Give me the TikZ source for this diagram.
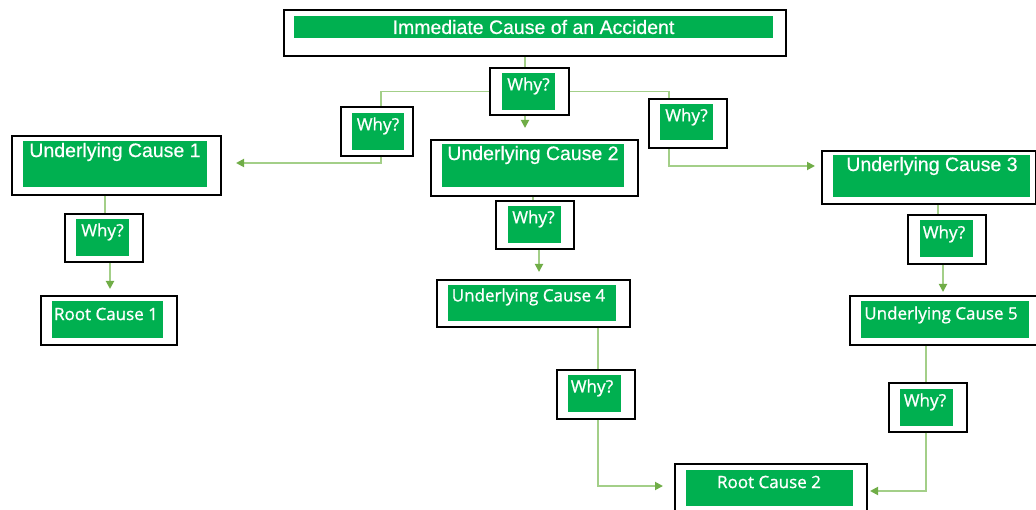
\documentclass[tikz,border=0pt]{standalone}
\usepackage{fontspec}
\setmainfont{Liberation Sans}
\newfontfamily\bigfont{Liberation Sans}[FakeBold=0.5]
\newfontfamily\osans{Open Sans}[FakeBold=1.0]
\usetikzlibrary{arrows.meta}
\definecolor{gr}{HTML}{00B050}
\definecolor{ln}{HTML}{A3CF88}
\definecolor{ah}{HTML}{70AD47}
\tikzset{
  outerbox/.style={draw=black, line width=1.6pt, fill=white, inner sep=0pt},
  inbox/.style={fill=gr},
  bigtxt/.style={text=white, font=\bigfont\fontsize{19.5}{22}\selectfont, inner sep=0pt},
  smtxt/.style={text=white, font=\osans\fontsize{17}{20}\selectfont, inner sep=0pt},
  conn/.style={draw=ln, line width=1.8pt},
  arr/.style={conn, -{Triangle[length=8pt,width=8pt,fill=ah,color=ah]}},
}
\begin{document}
\begin{tikzpicture}[x=1pt,y=-1pt]
\useasboundingbox (0,0) rectangle (1036,510);
% top box
\node[outerbox, minimum width=502pt, minimum height=46pt] (top) at (535,33) {};
\fill[inbox] (294,16) rectangle (773,38);
\node[bigtxt] (topt) at (533.5,27) {Immediate Cause of an Accident};
% why A
\node[outerbox, minimum width=79pt, minimum height=47pt] (whyA) at (529.5,91.5) {};
\fill[inbox] (502,73) rectangle (555,110);
\node[smtxt] (whyAt) at (528.5,86) {Why?};
% why B
\node[outerbox, minimum width=72pt, minimum height=49pt] (whyB) at (377,131.5) {};
\fill[inbox] (352,113) rectangle (404,150);
\node[smtxt] (whyBt) at (378,126) {Why?};
% why C
\node[outerbox, minimum width=78pt, minimum height=49pt] (whyC) at (688,123.5) {};
\fill[inbox] (660,104) rectangle (713,140);
\node[smtxt] (whyCt) at (686.5,117) {Why?};
% UC1
\node[outerbox, minimum width=209pt, minimum height=59pt] (uc1) at (116.5,165.5) {};
\fill[inbox] (23,141) rectangle (207,187);
\node[bigtxt] (uc1t) at (115,152) {Underlying Cause 1};
% UC2
\node[outerbox, minimum width=207pt, minimum height=56pt] (uc2) at (534.5,168) {};
\fill[inbox] (442,144) rectangle (624,187);
\node[bigtxt] (uc2t) at (533,155) {Underlying Cause 2};
% UC3
\node[outerbox, minimum width=214pt, minimum height=53pt] (uc3) at (929,177.5) {};
\fill[inbox] (833,155) rectangle (1030,197);
\node[bigtxt] (uc3t) at (932,166) {Underlying Cause 3};
% why D
\node[outerbox, minimum width=78pt, minimum height=48pt] (whyD) at (104,238) {};
\fill[inbox] (76,219) rectangle (129,256);
\node[smtxt] (whyDt) at (102.5,232) {Why?};
% Root cause 1
\node[outerbox, minimum width=136pt, minimum height=49pt] (rc1) at (109,320.5) {};
\fill[inbox] (52,301) rectangle (163,338);
\node[smtxt] (rc1t) at (106,314) {Root Cause 1};
% why E
\node[outerbox, minimum width=78pt, minimum height=48pt] (whyE) at (535,225) {};
\fill[inbox] (508,206) rectangle (561,243);
\node[smtxt] (whyEt) at (533.5,219) {Why?};
% UC4
\node[outerbox, minimum width=193pt, minimum height=47pt] (uc4) at (533.5,303.5) {};
\fill[inbox] (448,285) rectangle (616,321);
\node[smtxt] (uc4t) at (528.5,297) {Underlying Cause 4};
% why F
\node[outerbox, minimum width=78pt, minimum height=49pt] (whyF) at (596,394.5) {};
\fill[inbox] (568,375) rectangle (621,412);
\node[smtxt] (whyFt) at (592,388) {Why?};
% Root cause 2
\node[outerbox, minimum width=192pt, minimum height=52pt] (rc2) at (771,490) {};
\fill[inbox] (686,470) rectangle (853,506);
\node[smtxt] (rc2t) at (769,482) {Root Cause 2};
% why G
\node[outerbox, minimum width=78pt, minimum height=49pt] (whyG) at (947,239.5) {};
\fill[inbox] (920,220) rectangle (973,257);
\node[smtxt] (whyGt) at (944,234) {Why?};
% UC5
\node[outerbox, minimum width=188pt, minimum height=49pt] (uc5) at (944,320.5) {};
\fill[inbox] (861,301) rectangle (1029,338);
\node[smtxt] (uc5t) at (941,315) {Underlying Cause 5};
% why H
\node[outerbox, minimum width=78pt, minimum height=49pt] (whyH) at (928,407.5) {};
\fill[inbox] (900,389) rectangle (953,426);
\node[smtxt] (whyHt) at (925,402) {Why?};

% free arrow ends
\coordinate (eA) at (525,128);
\coordinate (eB) at (236,163);
\coordinate (eC) at (815,166);
\coordinate (eD) at (110,289);
\coordinate (eE) at (539,272);
\coordinate (eF) at (663,486);
\coordinate (eG) at (943,292);
\coordinate (eH) at (870,491);

% connectors
\draw[conn] ([xshift=-4.5pt]whyA.north) -- ([xshift=-10pt]top.south);
\draw[conn] (whyA.west) -| ([xshift=4pt]whyB.north);
\draw[conn] (whyA.east) -| ([xshift=-19pt]whyC.north);
\draw[arr] ([xshift=-4.5pt]whyA.south) -- (eA);
\draw[arr] ([xshift=4pt]whyB.south) |- (eB);
\draw[arr] ([xshift=-19pt]whyC.south) |- (eC);
\draw[conn] ([xshift=-11.5pt]uc1.south) -- ([xshift=1pt]whyD.north);
\draw[arr] ([xshift=6pt]whyD.south) -- (eD);
\draw[conn] ([xshift=-1.5pt]uc2.south) -- ([xshift=-2pt]whyE.north);
\draw[arr] ([xshift=4pt]whyE.south) -- (eE);
\draw[conn] ([xshift=64.5pt]uc4.south) -- ([xshift=2pt]whyF.north);
\draw[arr] ([xshift=2pt]whyF.south) |- (eF);
\draw[conn] ([xshift=9pt]uc3.south) -- ([xshift=-9pt]whyG.north);
\draw[arr] ([xshift=-4pt]whyG.south) -- (eG);
\draw[conn] ([xshift=-18pt]uc5.south) -- ([xshift=-2pt]whyH.north);
\draw[arr] ([xshift=-2pt]whyH.south) |- (eH);
\end{tikzpicture}
\end{document}
